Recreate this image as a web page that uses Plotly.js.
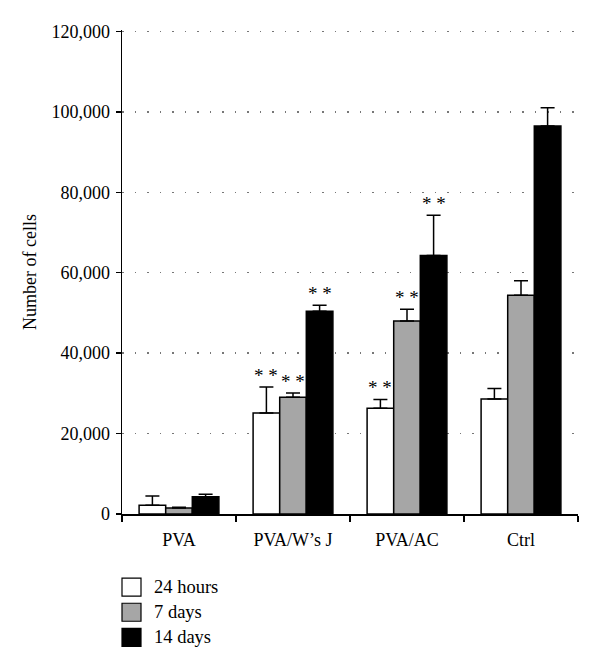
<!DOCTYPE html>
<html>
<head>
<meta charset="utf-8">
<script src="https://cdn.plot.ly/plotly-3.0.1.min.js"></script>
<style>html,body{margin:0;padding:0;background:#fff;}#chart{width:600px;height:670px;}</style>
</head>
<body>
<div id="chart"></div>
<script>
// ---- data ----
var categories = ["PVA", "PVA/W\u2019s J", "PVA/AC", "Ctrl"];
var seriesNames = ["24 hours", "7 days", "14 days"];
var values24h = [2200, 25100, 26300, 28600];
var errors24h = [2300, 6500, 2200, 2600];
var values7d = [1500, 29000, 48000, 54400];
var errors7d = [200, 1100, 2900, 3600];
var values14d = [4300, 50400, 64300, 96500];
var errors14d = [600, 1500, 10000, 4500];
var sig24h = ["", "**", "**", ""];
var sig7d = ["", "**", "**", ""];
var sig14d = ["", "**", "**", ""];
var yTicks = [0, 20000, 40000, 60000, 80000, 100000, 120000];

var fills = ["#ffffff", "#a6a6a6", "#000000"];
var allVals = [values24h, values7d, values14d];
var allErrs = [errors24h, errors7d, errors14d];
var allSig = [sig24h, sig7d, sig14d];
var FONT = "Liberation Serif, Times New Roman, serif";

var traces = allVals.map(function (v, i) {
  return {
    type: "bar",
    name: seriesNames[i],
    x: categories,
    y: v,
    offsetgroup: String(i),
    marker: { color: fills[i], line: { color: "#000", width: 1.5 } },
    error_y: {
      type: "data", symmetric: false, array: allErrs[i],
      arrayminus: v.map(function () { return 0; }),
      color: "#000", thickness: 1.5, width: 7
    },
    showlegend: false,
    hoverinfo: "skip"
  };
});

// significance marks via annotations (positions from data)
var annotations = [];
var nS = allVals.length;
var groupW = 0.7;
for (var s = 0; s < nS; s++) {
  for (var c = 0; c < categories.length; c++) {
    if (allSig[s][c]) {
      annotations.push({
        xref: "x", yref: "y",
        x: c - groupW / 2 + groupW / nS * (s + 0.5),
        y: allVals[s][c] + allErrs[s][c],
        text: allSig[s][c].split("").join(" "),
        showarrow: false, yanchor: "bottom", yshift: -1,
        font: { family: FONT, size: 19, color: "#000" }
      });
    }
  }
}

// custom legend
var shapes = [];
var legY = [-0.151, -0.203, -0.255];
seriesNames.forEach(function (n, i) {
  shapes.push({
    type: "rect", xref: "paper", yref: "paper",
    xsizemode: "pixel", ysizemode: "pixel",
    xanchor: 0, yanchor: legY[i],
    x0: 0, x1: 19, y0: -9, y1: 9,
    fillcolor: fills[i], line: { color: "#000", width: 1.2 }
  });
  annotations.push({
    xref: "paper", yref: "paper", x: 0.066, y: legY[i],
    xanchor: "left", yanchor: "middle", showarrow: false,
    text: n, font: { family: FONT, size: 18.5, color: "#000" }
  });
});

var layout = {
  width: 600, height: 670,
  margin: { l: 122, r: 22, t: 30, b: 156 },
  paper_bgcolor: "#fff", plot_bgcolor: "#fff",
  font: { family: FONT, size: 18, color: "#000" },
  barmode: "group", bargap: 0.3, bargroupgap: 0,
  showlegend: false,
  xaxis: {
    type: "category",
    range: [-0.5, 3.5],
    tickson: "boundaries",
    ticks: "outside", ticklen: 6, tickwidth: 1.5, tickcolor: "#000",
    ticklabelstandoff: 9,
    showline: true, linecolor: "#000", linewidth: 1.5,
    showgrid: false, zeroline: false,
    tickfont: { family: FONT, size: 18, color: "#000" }
  },
  yaxis: {
    range: [0, 120350],
    tickvals: yTicks,
    tickformat: ",d",
    ticks: "outside", ticklen: 5, tickwidth: 1.5, tickcolor: "#000",
    ticklabelstandoff: 2,
    showline: true, linecolor: "#000", linewidth: 1.5,
    showgrid: true, gridcolor: "#777", gridwidth: 1.5, griddash: "1.5px,11px",
    zeroline: false,
    tickfont: { family: FONT, size: 18, color: "#000" },
    title: { text: "Number of cells", font: { family: FONT, size: 18, color: "#000" }, standoff: 10 }
  },
  annotations: annotations,
  shapes: shapes
};

Plotly.newPlot("chart", traces, layout, { displayModeBar: false, staticPlot: true });
</script>
</body>
</html>
